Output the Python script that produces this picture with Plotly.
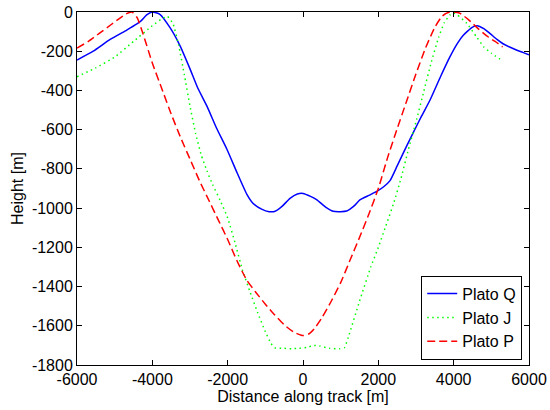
import plotly.graph_objects as go

# ---- data ----
q_x = [-6000, -5570, -5120, -4680, -4420, -4300, -4150, -4000, -3800, -3530, -3270, -3000, -2800, -2550,
       -2300, -2020, -1750, -1490, -1330, -1100, -900, -740, -550, -345, -150, 0, 200, 370, 600, 800,
       1000, 1160, 1350, 1510, 1750, 1960, 2150, 2310, 2500, 2760, 2920, 3150, 3370, 3650, 3900, 4100,
       4250, 4490, 4620, 4800, 4960, 5150, 5310, 5500, 5680, 5850, 6000]
q_y = [-245, -200, -140, -92, -62, -45, -15, 0, -12, -80, -170, -290, -385, -480,
       -590, -700, -820, -930, -975, -1005, -1018, -1016, -990, -950, -928, -925, -940, -958, -995, -1016,
       -1018, -1015, -990, -958, -935, -915, -890, -860, -785, -680, -618, -530, -450, -330, -229, -160,
       -120, -78, -70, -85, -109, -140, -162, -180, -195, -207, -218]

j_x = [-6000, -5500, -5000, -4500, -4000, -3750, -3600, -3450, -3300, -3150, -3000, -2850, -2700, -2550,
       -2400, -2200, -2000, -1800, -1600, -1400, -1200, -1000, -850, -750, -500, -300, -100, 100, 300,
       450, 700, 980, 1100, 1200, 1500, 1800, 2000, 2200, 2400, 2600, 2800, 3000, 3200, 3400, 3600,
       3750, 3900, 4000, 4100, 4350, 4600, 4800, 5000, 5230]
j_y = [-330, -285, -230, -150, -70, -35, -22, -60, -170, -320, -480, -620, -730, -810,
       -880, -960, -1050, -1180, -1320, -1430, -1535, -1630, -1690, -1712, -1715, -1717, -1715, -1710, -1700,
       -1703, -1715, -1717, -1712, -1660, -1475, -1300, -1200, -1090, -980, -850, -700, -560, -410, -260, -130,
       -55, -15, -5, -15, -58, -125, -178, -210, -240]

p_x = [-6000, -5700, -5400, -5100, -4850, -4700, -4540, -4400, -4250, -4000, -3750, -3500, -3250, -3000,
       -2750, -2500, -2250, -2000, -1750, -1500, -1250, -1000, -750, -500, -250, 0, 150, 300, 500, 750,
       1000, 1250, 1500, 1750, 2000, 2250, 2500, 2750, 3000, 3250, 3500, 3700, 3900, 4150, 4400, 4650,
       4900, 5100, 5300]
p_y = [-184, -150, -108, -65, -30, -10, 0, -30, -110, -260, -390, -520, -640, -750,
       -860, -960, -1060, -1160, -1270, -1365, -1430, -1490, -1545, -1595, -1632, -1650, -1642, -1615, -1560, -1475,
       -1380, -1265, -1150, -1030, -900, -740, -595, -455, -315, -185, -78, -20, 0, -5, -40, -85,
       -125, -150, -178]

x_ticks = [-6000, -4000, -2000, 0, 2000, 4000, 6000]
x_ticktext = ["-6000", "-4000", "-2000", "0", "2000", "4000", "6000"]
y_ticks = [0, -200, -400, -600, -800, -1000, -1200, -1400, -1600, -1800]
y_ticktext = ["0", "-200", "-400", "-600", "-800", "-1000", "-1200", "-1400", "-1600", "-1800"]

names = ["Plato Q", "Plato J", "Plato P"]

fig = go.Figure()
fig.add_trace(go.Scatter(x=q_x, y=q_y, mode="lines", name=names[0],
                         line=dict(color="#0000FF", width=1.5, shape="spline", smoothing=0.5)))
fig.add_trace(go.Scatter(x=j_x, y=j_y, mode="lines", name=names[1],
                         line=dict(color="#00FF00", width=1.5, dash="1.5px,3.5px", shape="spline", smoothing=0.4)))
fig.add_trace(go.Scatter(x=p_x, y=p_y, mode="lines", name=names[2],
                         line=dict(color="#FF0000", width=1.5, dash="8px,4px", shape="spline", smoothing=0.5)))

font = dict(family="Arial, Liberation Sans", size=16, color="black")
fig.update_layout(
    width=550, height=410,
    margin=dict(l=77, r=21, t=12, b=45, autoexpand=False),
    paper_bgcolor="white", plot_bgcolor="white",
    font=font,
    showlegend=True,
    legend=dict(x=0.985, y=0.015, xanchor="right", yanchor="bottom",
                bordercolor="black", borderwidth=1, bgcolor="white",
                font=font, tracegroupgap=0, itemwidth=30),
    xaxis=dict(range=[-6000, 6000], tickvals=x_ticks, ticktext=x_ticktext, automargin=False,
               ticks="inside", ticklen=5, tickcolor="black", showline=True, linecolor="black",
               linewidth=1, mirror="ticks", showgrid=False, zeroline=False, ticklabeloverflow="allow",
               title=dict(text="Distance along track [m]", standoff=2, font=font)),
    yaxis=dict(range=[-1800, 0], tickvals=y_ticks, ticktext=y_ticktext, automargin=False,
               ticks="inside", ticklen=5, tickcolor="black", showline=True, linecolor="black",
               linewidth=1, mirror="ticks", showgrid=False, zeroline=False, ticklabeloverflow="allow",
               title=dict(text="Height [m]", standoff=4, font=font)),
)

fig.write_html("out.html", config={"displayModeBar": False},
               post_script="document.body.style.margin='0';")
